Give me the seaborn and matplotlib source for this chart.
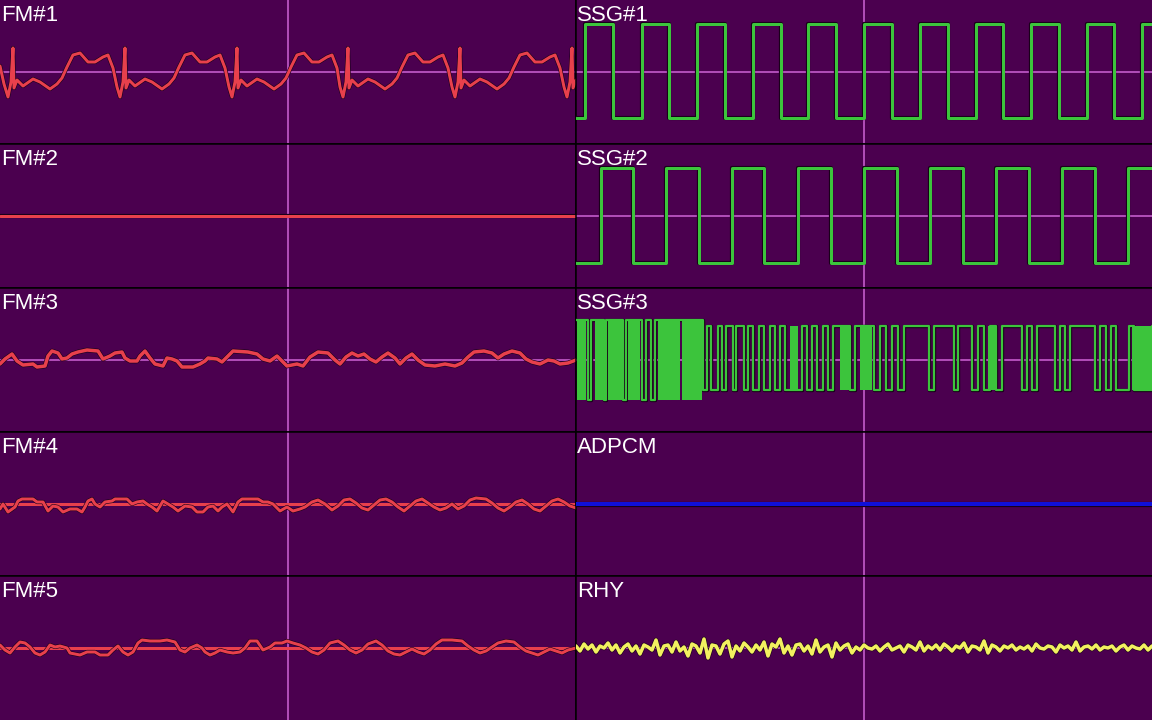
"""
Ten-channel oscilloscope view (FM / SSG / ADPCM / RHY) redrawn with seaborn.
Each panel is 576 px wide, 144 px tall; values are pixel offsets from the centre line.
"""
import numpy as np
import pandas as pd
import matplotlib
matplotlib.use('Agg')
import matplotlib.pyplot as plt
import matplotlib.patheffects as pe
import seaborn as sns

# ── Colours ──────────────────────────────────────────────────────────────────
BG = '#4b004f'
GUIDE = '#c860d0'
RED = '#e8404c'
GREEN = '#3cc43c'
BLUE = '#1010d8'
YELLOW = '#f2f060'
EDGE = '#1a001a'

# ── Data (x in panel pixels, y in pixels above centre) ───────────────────────
fm1_x = [0, 4, 8, 11,
         13, 14, 17, 23, 33, 40, 50, 57, 62, 67, 73, 80, 88, 95, 103, 108, 113, 117, 120, 123,
         125, 126, 129, 135, 145, 152, 162, 169, 174, 179, 185, 192, 200, 207, 215, 220, 225, 229, 232, 235,
         237, 238, 241, 247, 257, 264, 274, 281, 286, 291, 297, 304, 312, 319, 327, 332, 337, 340, 343, 346,
         348, 349, 352, 358, 368, 375, 385, 392, 397, 402, 408, 415, 423, 430, 438, 443, 448, 452, 455, 458,
         460, 461, 464, 470, 480, 487, 497, 504, 509, 514, 520, 527, 535, 542, 550, 555, 560, 564, 567, 570,
         572, 573, 576]
fm1_y = [6, -12, -25, -10,
         24, -16, -8, -14, -7, -10, -17, -12, -6, 5, 17, 19, 10, 10, 15, 17, 4, -15, -25, -10,
         24, -16, -8, -14, -7, -10, -17, -12, -6, 5, 17, 19, 10, 10, 15, 17, 4, -15, -25, -10,
         24, -16, -8, -14, -7, -10, -17, -12, -6, 5, 17, 19, 10, 10, 15, 17, 4, -15, -25, -10,
         24, -16, -8, -14, -7, -10, -17, -12, -6, 5, 17, 19, 10, 10, 15, 17, 4, -15, -25, -10,
         24, -16, -8, -14, -7, -10, -17, -12, -6, 5, 17, 19, 10, 10, 15, 17, 4, -15, -25, -10,
         24, -16, -8]

fm2_x = [0, 576]
fm2_y = [0, 0]

fm3_x = [0, 5, 12, 17, 23, 33, 37, 45, 48, 52, 58, 62, 67, 72, 78, 87, 98, 103, 110, 115,
         122, 125, 130, 137, 140, 145, 150, 155, 163, 167, 172, 177, 182, 193, 200, 205, 208, 217,
         222, 228, 233, 248, 257, 263, 270, 277, 282, 287, 297, 303, 310, 318, 328, 335, 340,
         346, 352, 358, 364, 370, 376, 382, 388, 395, 400, 406, 412, 418, 425, 435, 445, 455,
         462, 468, 474, 484, 492, 498, 504, 512, 520, 526, 532, 540, 548, 554, 560, 568, 576]
fm3_y = [-4, 1, 6, -1, -5, -4, -7, -6, 4, 9, 7, 1, 2, 6, 8, 10, 9, 1, 4, 7,
         8, 2, -1, -1, 4, 9, 2, -4, -6, 2, 1, -1, -7, -7, -4, -1, 2, 1,
         -2, 4, 9, 8, 6, 1, -1, 4, -1, -6, -4, -6, 3, 8, 7, 0, -4,
         3, 7, 4, 6, 1, -2, 3, 7, 2, -4, 2, 6, 0, -5, -6, -4, -6,
         -3, 3, 8, 9, 7, 2, 6, 9, 7, 1, -2, -4, 0, -1, -4, -3, 0]

fm4_x = [0, 3, 8, 15, 18, 22, 33, 37, 43, 48, 53, 58, 63, 70, 77, 82, 85, 88, 92, 95,
         100, 105, 112, 115, 127, 132, 137, 143, 147, 152, 157, 163, 168, 173, 178, 185, 192,
         197, 203, 208, 213, 218, 222, 227, 233, 238, 242, 258, 263, 268, 273, 280, 287, 293,
         300, 305, 312, 318, 325, 332, 338, 344, 350, 356, 362, 368, 374, 380, 386, 392, 398,
         404, 410, 416, 422, 428, 434, 440, 446, 452, 458, 464, 470, 476, 486, 492, 498, 504,
         510, 516, 522, 528, 534, 540, 546, 552, 558, 564, 570, 576]
fm4_y = [-5, 0, -8, -3, 3, 5, 5, 2, 2, -7, -2, -3, -8, -5, -5, -8, -3, 3, 5, 0,
         -3, 2, 3, 5, 5, 0, 2, 3, 0, -3, -7, 3, 0, -3, -7, -2, -3,
         -8, -8, -3, -2, -7, -3, 0, -8, 2, 5, 5, 2, 2, 0, -7, -3, -7,
         -5, -3, 2, 4, 0, -6, -2, 4, 5, 1, -4, -6, -1, 4, 5, 2, -3,
         -7, -2, 3, 5, 1, -3, -6, -4, 0, -5, -2, 4, 6, 5, 1, -4, -7,
         -3, 2, 4, 0, -5, -7, -2, 3, 5, 2, -2, -4]

fm5_x = [0, 5, 10, 15, 20, 25, 30, 35, 40, 45, 50, 55, 60, 67, 70, 80, 87, 95, 100, 108,
         113, 118, 123, 128, 133, 138, 142, 150, 160, 167, 175, 180, 185, 190, 197, 202, 205,
         210, 215, 220, 227, 233, 240, 245, 250, 257, 263, 270, 275, 282, 287, 293, 300,
         306, 312, 318, 324, 330, 338, 344, 350, 356, 362, 368, 376, 382, 388, 394, 400, 406,
         412, 418, 424, 430, 436, 442, 452, 462, 468, 474, 480, 486, 492, 498, 506, 514, 520,
         526, 532, 538, 544, 550, 556, 562, 568, 576]
fm5_y = [3, -2, -5, 1, 6, 5, 1, -5, -7, -4, 3, 1, 2, 0, -5, -7, -4, -4, -7, -7,
         -2, 2, -4, -7, -4, 5, 8, 7, 7, 8, 6, -2, -4, 0, 3, 0, -4,
         -7, -5, -2, -4, -5, -4, 0, 7, 7, -2, 1, 5, 5, 7, 5, 3,
         0, -4, -6, -2, 5, 7, 3, -2, -5, -2, 4, 7, 3, -3, -6, -7, -4,
         -1, -4, -6, -2, 4, 8, 8, 7, 2, -2, -5, -3, 1, 5, 7, 6, 1,
         -3, -5, -7, -4, -1, -3, -5, -2, 0]

ssg1_x = [0, 9, 37, 66, 93, 121, 149, 177, 205, 232, 260, 288, 316, 344, 372,
          400, 427, 455, 483, 511, 538, 566, 576]
ssg1_y = [-46, 48, -46, 48, -46, 48, -46, 48, -46, 48, -46, 48, -46, 48, -46,
          48, -46, 48, -46, 48, -46, 48, 48]

ssg2_x = [0, 25, 57, 90, 123, 156, 188, 222, 255, 288, 321, 354, 387, 420, 453,
          486, 519, 552, 576]
ssg2_y = [-47, 48, -47, 48, -47, 48, -47, 48, -47, 48, -47, 48, -47, 48, -47,
          48, -47, 48, 48]

ssg3_x = [0, 12, 15, 28, 30, 47, 50, 66, 70, 75, 79,
          127, 131, 135, 142, 146, 150, 157, 160, 168, 172,
          177, 183, 188, 194, 199, 204, 209, 226, 231, 236,
          241, 247, 252, 257, 274, 279, 298, 304, 310, 316,
          322, 328, 353, 358, 378, 382, 396, 402, 408, 414,
          420, 426, 446, 451, 456, 461, 479, 484, 489, 494,
          519, 524, 530, 535, 540, 553, 558, 576]
ssg3_y = [40, -40, 40, -40, 40, -40, 40, -40, 40, -40, 40,
          -30, 34, -30, 34, -30, 34, -30, 34, -30, 34,
          -30, 34, -30, 34, -30, 34, -30, 34, -30, 34,
          -30, 34, -30, 34, -30, 34, -30, 34, -30, 34,
          -30, 34, -30, 34, -30, 34, -30, 34, -30, 34,
          -30, 34, -30, 34, -30, 34, -30, 34, -30, 34,
          -30, 34, -30, 34, -30, 34, -30, 34]
# densely toggling stretches that render as solid green blocks
ssg3_block_start = [1, 19, 32, 52, 82, 106, 214, 264, 284, 412, 556]
ssg3_block_end = [10, 27, 46, 64, 104, 126, 222, 274, 296, 420, 576]
ssg3_block_lo = [-40, -40, -40, -40, -40, -40, -30, -30, -30, -30, -30]
ssg3_block_hi = [40, 40, 40, 40, 40, 40, 34, 34, 34, 34, 34]

adpcm_x = [0, 576]
adpcm_y = [0, 0]

rhy_step = 4
rhy_y = [2, -3, 4, -1, 3, -4, 2, 0, 5, -2, 3, -5, 1, 4, -3, 2, -6, 3, 1, -2,
         8, -7, 2, 3, -4, 6, -3, 1, -8, 4, 2, -5, 9, -10, 3, 2, -6, 4, 7, -9,
         2, -3, 5, 1, -4, 3, -2, 6, -8, 4, 1, 9, -5, 2, -7, 3, 4, -3, 2, -6,
         8, -4, 1, 3, -9, 5, -2, 2, 4, -5, 1, -2, 3, 0, -1, 2, -3, 1, 4, -2,
         0, 2, -4, 3, 1, -2, 6, -3, 2, -1, 3, -2, 4, 1, -3, 2, 0, 5, -4, 2,
         1, -2, 7, -5, 3, 1, -3, 2, 0, 3, -2, 1, -1, 2, -3, 4, 0, -1, 2, 1,
         -4, 3, 0, 2, -2, 6, -3, 1, 2, -1, 3, -2, 1, 0, 2, -3, 1, 3, -2, 2,
         0, -1, 3, -2, 2]
rhy_x = np.arange(len(rhy_y)) * rhy_step

# (row, col, label, x, y, colour, line width px, step drawing)
PANELS = [
    (0, 0, 'FM#1', fm1_x, fm1_y, RED, 3, False),
    (1, 0, 'FM#2', fm2_x, fm2_y, RED, 3, False),
    (2, 0, 'FM#3', fm3_x, fm3_y, RED, 3.5, False),
    (3, 0, 'FM#4', fm4_x, fm4_y, RED, 3, False),
    (4, 0, 'FM#5', fm5_x, fm5_y, RED, 3, False),
    (0, 1, 'SSG#1', ssg1_x, ssg1_y, GREEN, 3, True),
    (1, 1, 'SSG#2', ssg2_x, ssg2_y, GREEN, 3, True),
    (2, 1, 'SSG#3', ssg3_x, ssg3_y, GREEN, 2.2, True),
    (3, 1, 'ADPCM', adpcm_x, adpcm_y, BLUE, 4, False),
    (4, 1, 'RHY', rhy_x, rhy_y, YELLOW, 3.5, False),
]

PX = 72 / 100  # points per pixel at dpi 100

sns.set_style('dark', {'axes.facecolor': BG, 'figure.facecolor': BG})
plt.rcParams['font.family'] = ['Liberation Sans', 'DejaVu Sans']

fig, axes = plt.subplots(5, 2, figsize=(11.52, 7.2), dpi=100)
fig.subplots_adjust(left=0, right=1, bottom=0, top=1, wspace=0, hspace=0)

for row, col, label, xs, ys, color, lw, steps in PANELS:
    ax = axes[row, col]
    ax.set_facecolor(BG)
    ax.axhline(0, color=GUIDE, lw=1.6 * PX, zorder=1)
    ax.axvline(288, color=GUIDE, lw=1.6 * PX, zorder=1)

    df = pd.DataFrame({'x': xs, 'y': ys})
    kw = dict(drawstyle='steps-post') if steps else {}
    sns.lineplot(data=df, x='x', y='y', ax=ax, sort=False, estimator=None,
                 color=color, lw=lw * PX, zorder=3,
                 path_effects=[pe.Stroke(linewidth=(lw + 1.2) * PX, foreground=EDGE),
                               pe.Normal()], **kw)

    # flat carrier line that sits under the FM#4 / FM#5 traces
    if label in ('FM#4', 'FM#5'):
        ax.axhline(0, color=RED, lw=3 * PX, zorder=2)

    if label == 'SSG#3':
        for s, e, lo, hi in zip(ssg3_block_start, ssg3_block_end, ssg3_block_lo, ssg3_block_hi):
            ax.fill_between([s, e], lo, hi, color=GREEN, lw=0, zorder=3)

    ax.text(0.002, 0.965, label, transform=ax.transAxes, ha='left', va='top',
            color='white', fontsize=16, zorder=5)

    ax.set_xlim(0, 576)
    ax.set_ylim(-72, 72)
    ax.set_xticks([])
    ax.set_yticks([])
    ax.set_xlabel('')
    ax.set_ylabel('')
    for name, sp in ax.spines.items():
        sp.set_color('black')
        sp.set_linewidth(1.5 * PX)
        # no frame on the outer edge of the figure
        outer = ((name == 'top' and row == 0) or (name == 'bottom' and row == 4)
                 or (name == 'left' and col == 0) or (name == 'right' and col == 1))
        sp.set_visible(not outer)

fig.savefig('out.png', dpi=100, facecolor=BG)
